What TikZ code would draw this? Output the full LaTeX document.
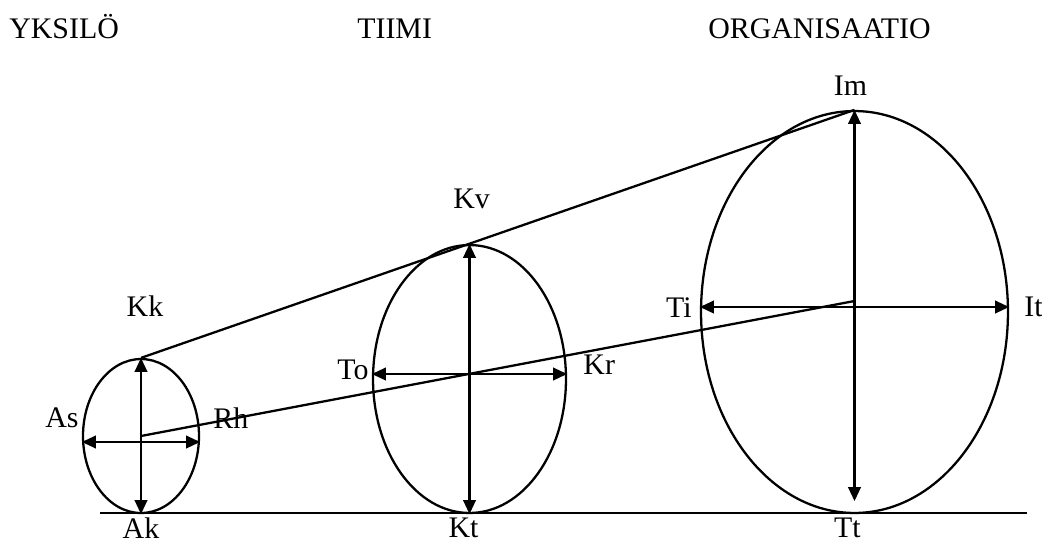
\documentclass[tikz,border=0pt]{standalone}
\usepackage{fontspec}
\setmainfont{Liberation Serif}
\usetikzlibrary{positioning, arrows.meta, shapes.geometric}

\begin{document}
\begin{tikzpicture}[
  x=0.02cm, y=-0.02cm,
  >={Triangle[length=0.28cm, width=0.25cm]},
  font=\fontsize{17}{20}\selectfont,
  oval/.style={draw, ellipse, line width=1.3pt, inner sep=0pt},
  arr/.style={<->, line width=1.3pt},
  lnk/.style={line width=1.3pt},
  lbl/.style={inner sep=0pt}
]
\useasboundingbox (0,0) rectangle (1042,542);
% otsikot
\node[lbl, anchor=base west] (yks) at (9,38) {YKSILÖ};
\node[lbl, anchor=base west] (tii) at (357,38) {TIIMI};
\node[lbl, anchor=base west] (orgt) at (708,38) {ORGANISAATIO};
% ellipsit
\node[oval, minimum width=2.32cm, minimum height=3.08cm] (yksilo) at (141,436) {};
\node[oval, minimum width=3.86cm, minimum height=5.36cm] (tiimi) at (469.5,379) {};
\node[oval, minimum width=6.14cm, minimum height=8.04cm] (org) at (854.5,312) {};
% pohjaviiva
\coordinate (pv1) at (100,513);
\coordinate (pv2) at (1027,513);
\draw[lnk] (pv1) -- (pv2);
% yhdysviivat
\coordinate (orgk) at ([yshift=0.22cm]org.center);
\draw[lnk] (yksilo.north) -- (org.north);
\draw[lnk] (yksilo.center) -- (orgk);
% nuolet
\draw[arr] (yksilo.north) -- (yksilo.south);
\draw[arr] ([yshift=-0.12cm]yksilo.west) -- ([yshift=-0.12cm]yksilo.east);
\draw[arr] (tiimi.north) -- (tiimi.south);
\draw[arr] ([yshift=0.1cm]tiimi.west) -- ([yshift=0.1cm]tiimi.east);
\draw[arr] (org.north) -- ([yshift=0.26cm]org.south);
\draw[arr] ([yshift=0.1cm]org.west) -- ([yshift=0.1cm]org.east);
% nimiöt
\node[lbl, above=0.82cm of yksilo.north, xshift=0.08cm] (kk) {Kk};
\node[lbl, below=0.06cm of yksilo.south] (ak) {Ak};
\node[lbl, left=0.06cm of yksilo.west, yshift=0.36cm] (as) {As};
\node[lbl, right=0.26cm of yksilo.east, yshift=0.36cm] (rh) {Rh};
\node[lbl, above=0.7cm of tiimi.north, xshift=0.04cm] (kv) {Kv};
\node[lbl, below=0.06cm of tiimi.south, xshift=-0.12cm] (kt) {Kt};
\node[lbl, left=0.06cm of tiimi.west, yshift=0.18cm] (to) {To};
\node[lbl, right=0.32cm of tiimi.east, yshift=0.28cm] (kr) {Kr};
\node[lbl, above=0.28cm of org.north, xshift=-0.08cm] (im) {Im};
\node[lbl, below=0.06cm of org.south, xshift=-0.14cm] (tt) {Tt};
\node[lbl, left=0.16cm of org.west, yshift=0.08cm] (ti) {Ti};
\node[lbl, right=0.3cm of org.east, yshift=0.1cm] (it) {It};
\end{tikzpicture}
\end{document}
